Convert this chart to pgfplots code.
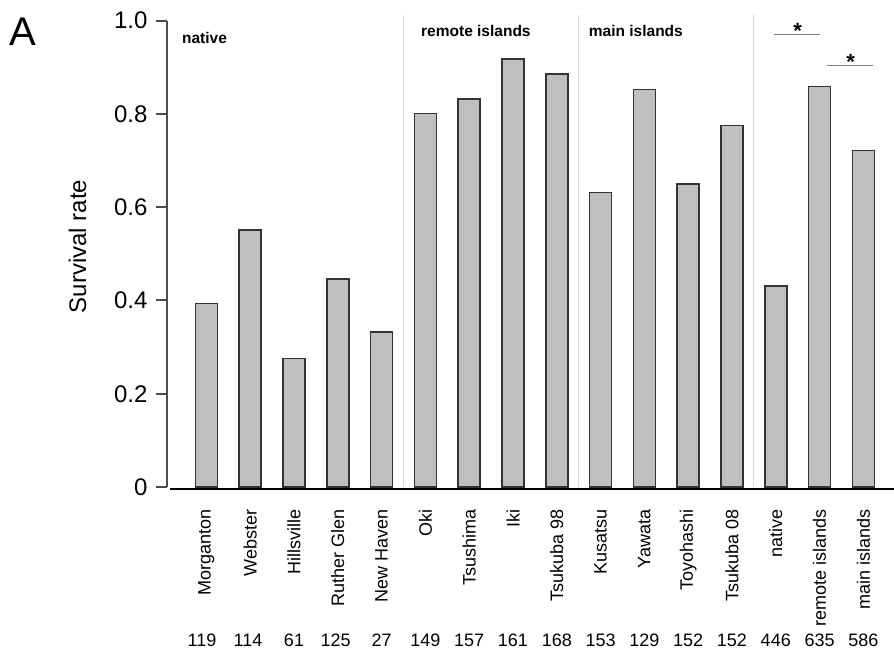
\documentclass[border=0pt]{standalone}
\usepackage{pgfplots}
\pgfplotsset{compat=1.18}
\usepackage{fontspec}
\setmainfont{Liberation Sans}
\definecolor{barfill}{rgb}{0.75,0.75,0.75}
\definecolor{bardraw}{rgb}{0.2,0.2,0.2}
\definecolor{sepgray}{rgb}{0.85,0.85,0.85}
\definecolor{siggray}{rgb}{0.5,0.5,0.5}
\definecolor{yline}{rgb}{0.3,0.3,0.3}
\begin{document}
\begin{tikzpicture}
\begin{axis}[name=ax, scale only axis, width=727bp, height=466.3bp,
  xmin=-0.9, xmax=15.7, ymin=0, ymax=1,
  ybar, bar width=22bp,
  clip=false,
  axis line style={draw=none},
  tick pos=left,
  xtick={0,1,2,3,4,5,6,7,8,9,10,11,12,13,14,15},
  xticklabels={Morganton, Webster, Hillsville, Ruther Glen, New Haven, Oki, Tsushima, Iki, Tsukuba 98, Kusatsu, Yawata, Toyohashi, Tsukuba 08, native, remote islands, main islands},
  xtick style={draw=none},
  ytick={0,0.2,0.4,0.6,0.8,1.0},
  yticklabels={0,0.2,0.4,0.6,0.8,1.0},
  tick align=outside, major tick length=11bp,
  ytick style={draw=yline, line width=2bp},
  yticklabel style={xshift=-5bp, font=\fontsize{24bp}{28bp}\selectfont},
  xticklabel style={yshift=-8bp, font=\fontsize{18bp}{21bp}\selectfont, rotate=90, anchor=east},
  ylabel={Survival rate},
  ylabel style={font=\fontsize{24bp}{28bp}\selectfont, at={(axis description cs:-0.1231,0.516)}, anchor=center},
]
\addplot[fill=barfill, draw=bardraw, line width=1.5bp] coordinates {
  (0,0.394) (1,0.551) (2,0.276) (3,0.446) (4,0.332)
  (5,0.801) (6,0.832) (7,0.918) (8,0.886)
  (9,0.632) (10,0.852) (11,0.650) (12,0.775)
  (13,0.431) (14,0.859) (15,0.722)
};
% x axis line
\draw[draw=black, line width=2.2bp] ([yshift=-2bp]axis cs:-0.83,0) -- ([yshift=-2bp]axis cs:15.7,0);
% group separators
\draw[sepgray, line width=1bp] (axis cs:4.5,0) -- (axis cs:4.5,1.012);
\draw[sepgray, line width=1bp] (axis cs:8.5,0) -- (axis cs:8.5,1.012);
\draw[sepgray, line width=1bp] (axis cs:12.5,0) -- (axis cs:12.5,1.012);
% group labels
\node[anchor=west, inner sep=0pt, font=\bfseries\fontsize{15.5bp}{18bp}\selectfont] at (axis cs:-0.56,0.963) {native};
\node[anchor=west, inner sep=0pt, font=\bfseries\fontsize{15.5bp}{18bp}\selectfont] at (axis cs:4.90,0.978) {remote islands};
\node[anchor=west, inner sep=0pt, font=\bfseries\fontsize{15.5bp}{18bp}\selectfont] at (axis cs:8.73,0.978) {main islands};
% significance
\draw[siggray, line width=1.5bp] (axis cs:12.96,0.970) -- (axis cs:14.01,0.970);
\draw[siggray, line width=1.5bp] (axis cs:14.17,0.904) -- (axis cs:15.22,0.904);
\node[anchor=base, inner sep=0pt, font=\bfseries\fontsize{22bp}{24bp}\selectfont] at (axis cs:13.50,0.961) {*};
\node[anchor=base, inner sep=0pt, font=\bfseries\fontsize{22bp}{24bp}\selectfont] at (axis cs:14.71,0.895) {*};
% sample sizes
\node[yshift=-153bp, font=\fontsize{18bp}{21bp}\selectfont] at (axis cs:-0.1,0) {119};
\node[yshift=-153bp, font=\fontsize{18bp}{21bp}\selectfont] at (axis cs:0.95,0) {114};
\node[yshift=-153bp, font=\fontsize{18bp}{21bp}\selectfont] at (axis cs:2,0) {61};
\node[yshift=-153bp, font=\fontsize{18bp}{21bp}\selectfont] at (axis cs:2.95,0) {125};
\node[yshift=-153bp, font=\fontsize{18bp}{21bp}\selectfont] at (axis cs:4,0) {27};
\node[yshift=-153bp, font=\fontsize{18bp}{21bp}\selectfont] at (axis cs:5,0) {149};
\node[yshift=-153bp, font=\fontsize{18bp}{21bp}\selectfont] at (axis cs:6,0) {157};
\node[yshift=-153bp, font=\fontsize{18bp}{21bp}\selectfont] at (axis cs:7,0) {161};
\node[yshift=-153bp, font=\fontsize{18bp}{21bp}\selectfont] at (axis cs:8,0) {168};
\node[yshift=-153bp, font=\fontsize{18bp}{21bp}\selectfont] at (axis cs:9,0) {153};
\node[yshift=-153bp, font=\fontsize{18bp}{21bp}\selectfont] at (axis cs:10,0) {129};
\node[yshift=-153bp, font=\fontsize{18bp}{21bp}\selectfont] at (axis cs:11,0) {152};
\node[yshift=-153bp, font=\fontsize{18bp}{21bp}\selectfont] at (axis cs:12,0) {152};
\node[yshift=-153bp, font=\fontsize{18bp}{21bp}\selectfont] at (axis cs:13,0) {446};
\node[yshift=-153bp, font=\fontsize{18bp}{21bp}\selectfont] at (axis cs:14,0) {635};
\node[yshift=-153bp, font=\fontsize{18bp}{21bp}\selectfont] at (axis cs:15,0) {586};
\end{axis}
\draw[draw=yline, line width=2bp] (ax.south west) -- (ax.north west);
\node[font=\fontsize{40bp}{44bp}\selectfont] at ([xshift=-144.5bp,yshift=455.5bp]ax.south west) {A};
\pgfresetboundingbox
\path ([xshift=-167bp,yshift=-168bp]ax.south west) rectangle ([xshift=727bp,yshift=487bp]ax.south west);
\end{tikzpicture}
\end{document}
